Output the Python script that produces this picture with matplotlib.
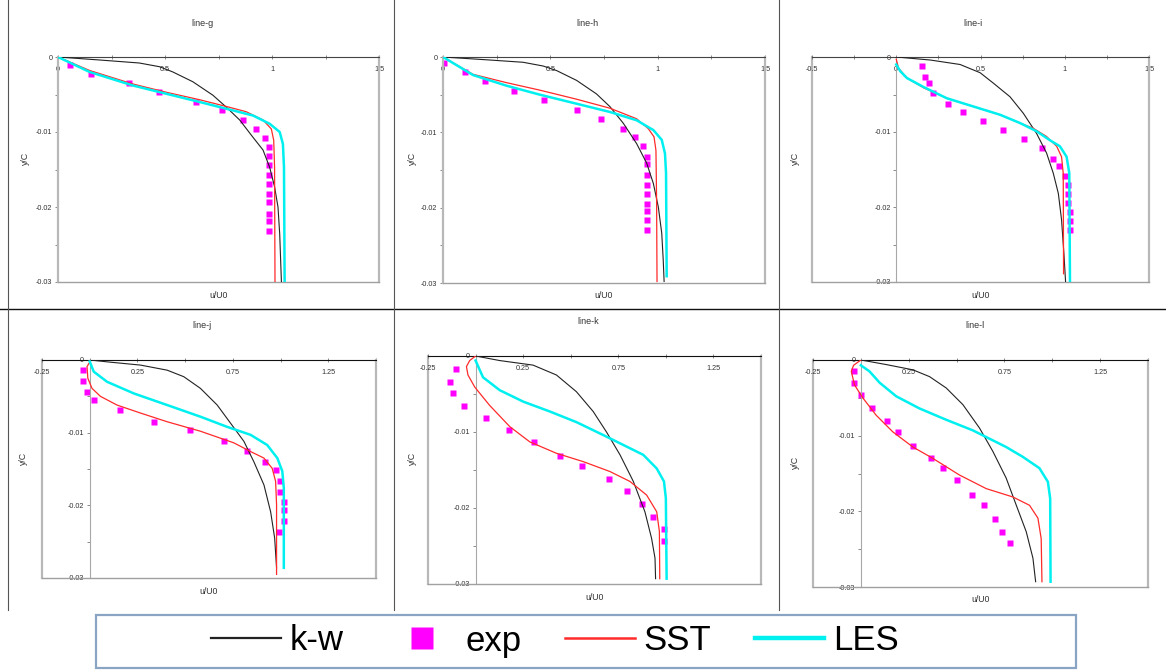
import matplotlib.pyplot as plt
from matplotlib.lines import Line2D
from matplotlib.patches import Rectangle

plt.rcParams['font.family'] = ['Liberation Sans', 'DejaVu Sans']

W, H = 1166, 671

# ---- line-g
g_kw_u = [0, 0.195, 0.38, 0.475, 0.537, 0.63, 0.724, 0.787, 0.849, 0.911, 0.958, 0.989, 1.012, 1.028, 1.036, 1.044]
g_kw_y = [0, -0.0004, -0.0008, -0.0013, -0.002, -0.0033, -0.0051, -0.0067, -0.0084, -0.0107, -0.0124, -0.0147, -0.0173, -0.02, -0.0236, -0.03]
g_sst_u = [0, 0.148, 0.35, 0.506, 0.662, 0.787, 0.88, 0.958, 0.997, 1.008, 1.012, 1.014]
g_sst_y = [0, -0.0018, -0.0036, -0.0047, -0.0057, -0.0066, -0.0073, -0.0084, -0.0096, -0.0111, -0.0147, -0.03]
g_les_u = [0, 0.148, 0.35, 0.506, 0.662, 0.787, 0.911, 0.989, 1.036, 1.051, 1.056, 1.059]
g_les_y = [0, -0.002, -0.0038, -0.0049, -0.006, -0.0069, -0.0078, -0.0089, -0.01, -0.0116, -0.0147, -0.03]
g_exp_u = [0.055, 0.156, 0.332, 0.472, 0.646, 0.768, 0.864, 0.924, 0.966,
           0.986, 0.986, 0.986, 0.986, 0.986, 0.986, 0.986, 0.986, 0.986, 0.986]
g_exp_y = [-0.001, -0.0022, -0.0035, -0.0047, -0.006, -0.0071, -0.0084, -0.0096, -0.0108, -0.012,
           -0.0132, -0.0144, -0.0157, -0.0169, -0.0183, -0.0193, -0.0209, -0.0219, -0.0232]

# ---- line-h
h_kw_u = [0, 0.218, 0.373, 0.467, 0.529, 0.622, 0.715, 0.778, 0.84, 0.902, 0.949, 0.98, 1.003, 1.019, 1.026, 1.03]
h_kw_y = [0, -0.0004, -0.0007, -0.0012, -0.0018, -0.0031, -0.0049, -0.0066, -0.0088, -0.0115, -0.0141, -0.0168, -0.0199, -0.0234, -0.027, -0.0298]
h_sst_u = [0, 0.14, 0.295, 0.451, 0.622, 0.778, 0.902, 0.956, 0.983, 0.992, 0.995, 0.997]
h_sst_y = [0, -0.0023, -0.0034, -0.0044, -0.0056, -0.0068, -0.0082, -0.0095, -0.0106, -0.0124, -0.019, -0.0298]
h_les_u = [0, 0.14, 0.295, 0.451, 0.622, 0.778, 0.902, 0.98, 1.019, 1.034, 1.039, 1.042]
h_les_y = [0, -0.0024, -0.0038, -0.005, -0.0062, -0.0073, -0.0084, -0.0097, -0.011, -0.0128, -0.0154, -0.0291]
h_exp_u = [0.003, 0.101, 0.197, 0.331, 0.47, 0.622, 0.737, 0.838, 0.896, 0.933,
           0.952, 0.952, 0.952, 0.952, 0.952, 0.952, 0.952, 0.952, 0.952]
h_exp_y = [-0.0008, -0.002, -0.0032, -0.0045, -0.0057, -0.007, -0.0082, -0.0095, -0.0106, -0.0118,
           -0.0133, -0.0142, -0.0156, -0.017, -0.0182, -0.0195, -0.0204, -0.0216, -0.023]

# ---- line-i
i_kw_u = [0, 0.201, 0.379, 0.498, 0.577, 0.675, 0.754, 0.833, 0.892, 0.932, 0.962, 0.981, 0.995, 1.005]
i_kw_y = [0, -0.0004, -0.001, -0.0021, -0.0035, -0.0053, -0.0075, -0.0102, -0.0128, -0.0155, -0.0182, -0.0217, -0.0262, -0.03]
i_sst_u = [0, 0.014, 0.063, 0.162, 0.3, 0.458, 0.616, 0.734, 0.813, 0.892, 0.952, 0.981, 0.991, 0.993]
i_sst_y = [-0.0003, -0.0015, -0.0028, -0.0041, -0.0055, -0.0066, -0.0077, -0.0088, -0.0095, -0.0106, -0.0119, -0.0133, -0.0155, -0.0289]
i_les_u = [0, 0.024, 0.063, 0.162, 0.3, 0.458, 0.616, 0.734, 0.833, 0.912, 0.971, 1.011, 1.027, 1.031]
i_les_y = [-0.001, -0.0019, -0.0028, -0.004, -0.0055, -0.0066, -0.0077, -0.0088, -0.0099, -0.0111, -0.0119, -0.0133, -0.0155, -0.03]
i_exp_u = [0.152, 0.172, 0.192, 0.221, 0.31, 0.395, 0.517, 0.636, 0.76, 0.863,
           0.928, 0.967, 1.001, 1.017, 1.017, 1.017, 1.031, 1.031, 1.031]
i_exp_y = [-0.0012, -0.0026, -0.0035, -0.0048, -0.0063, -0.0073, -0.0085, -0.0097, -0.0109, -0.0121,
           -0.0136, -0.0145, -0.0158, -0.017, -0.0182, -0.0194, -0.0207, -0.0219, -0.0231]

# ---- line-j
j_kw_u = [0, 0.108, 0.266, 0.406, 0.493, 0.58, 0.668, 0.738, 0.808, 0.86, 0.913, 0.948, 0.969, 0.979]
j_kw_y = [0, -0.0003, -0.0007, -0.0014, -0.0023, -0.0039, -0.0062, -0.0087, -0.0112, -0.014, -0.0172, -0.0209, -0.0245, -0.0286]
j_sst_u = [0, -0.014, -0.01, 0.012, 0.056, 0.143, 0.266, 0.406, 0.58, 0.755, 0.843, 0.913, 0.956, 0.974, 0.979, 0.979]
j_sst_y = [-0.0003, -0.0009, -0.0025, -0.0039, -0.005, -0.0062, -0.0073, -0.0085, -0.0098, -0.0114, -0.0126, -0.0135, -0.0149, -0.0167, -0.0199, -0.0295]
j_les_u = [0, 0.021, 0.091, 0.231, 0.406, 0.58, 0.72, 0.843, 0.93, 0.983, 1.009, 1.017, 1.017]
j_les_y = [-0.0002, -0.0016, -0.003, -0.0046, -0.0062, -0.0078, -0.0092, -0.0103, -0.0117, -0.0135, -0.0153, -0.0176, -0.0286]
j_exp_u = [-0.035, -0.035, -0.014, 0.021, 0.157, 0.336, 0.524, 0.703, 0.822, 0.916,
           0.974, 0.995, 0.995, 1.017, 1.017, 1.017, 0.993]
j_exp_y = [-0.0014, -0.0029, -0.0044, -0.0055, -0.0069, -0.0085, -0.0097, -0.0111, -0.0125, -0.014,
           -0.0152, -0.0166, -0.0182, -0.0195, -0.0207, -0.0222, -0.0237]

# ---- line-k
k_kw_u = [0, 0.127, 0.302, 0.425, 0.53, 0.618, 0.688, 0.759, 0.829, 0.89, 0.925, 0.943, 0.946]
k_kw_y = [0, -0.0006, -0.0012, -0.0025, -0.0047, -0.0073, -0.01, -0.013, -0.0165, -0.0205, -0.024, -0.0266, -0.0293]
k_sst_u = [0, -0.031, -0.048, -0.04, -0.004, 0.074, 0.18, 0.285, 0.425, 0.566, 0.706, 0.811, 0.899, 0.952, 0.966, 0.968]
k_sst_y = [0, -0.0006, -0.0014, -0.0025, -0.0041, -0.0065, -0.0093, -0.0113, -0.0128, -0.0139, -0.0152, -0.0165, -0.0183, -0.0205, -0.0231, -0.0293]
k_les_u = [0, 0.039, 0.127, 0.25, 0.39, 0.53, 0.671, 0.776, 0.881, 0.952, 0.99, 1.0, 1.004]
k_les_y = [-0.0006, -0.0028, -0.0045, -0.006, -0.0073, -0.0087, -0.0104, -0.0117, -0.013, -0.0148, -0.0165, -0.0187, -0.0293]
k_exp_u = [-0.101, -0.136, -0.118, -0.06, 0.057, 0.174, 0.308, 0.445, 0.56, 0.7,
           0.797, 0.876, 0.932, 0.99, 0.99]
k_exp_y = [-0.0017, -0.0034, -0.0049, -0.0066, -0.0082, -0.0098, -0.0113, -0.0131, -0.0145, -0.0162,
           -0.0178, -0.0195, -0.0212, -0.0228, -0.0244]

# ---- line-l
l_kw_u = [0, 0.132, 0.272, 0.359, 0.446, 0.533, 0.62, 0.69, 0.759, 0.812, 0.864, 0.899, 0.913]
l_kw_y = [0, -0.0006, -0.0013, -0.0022, -0.0037, -0.0059, -0.009, -0.0121, -0.0156, -0.0192, -0.0227, -0.0262, -0.0293]
l_sst_u = [0, -0.038, -0.05, -0.033, 0.01, 0.08, 0.167, 0.272, 0.376, 0.515, 0.655, 0.794, 0.881, 0.925, 0.942, 0.946]
l_sst_y = [0, -0.0007, -0.0015, -0.0033, -0.005, -0.0073, -0.0095, -0.0115, -0.013, -0.0152, -0.017, -0.0181, -0.0192, -0.0209, -0.0236, -0.0293]
l_les_u = [0, 0.045, 0.098, 0.185, 0.306, 0.446, 0.585, 0.672, 0.759, 0.846, 0.933, 0.977, 0.989, 0.991]
l_les_y = [-0.0007, -0.0015, -0.003, -0.0048, -0.0064, -0.0079, -0.0093, -0.0104, -0.0115, -0.0128, -0.0143, -0.0161, -0.0183, -0.0293]
l_exp_u = [-0.038, -0.038, 0.0, 0.056, 0.136, 0.193, 0.272, 0.366, 0.428, 0.503,
           0.58, 0.641, 0.7, 0.738, 0.777]
l_exp_y = [-0.0014, -0.003, -0.0046, -0.0063, -0.0081, -0.0095, -0.0113, -0.013, -0.0143, -0.0159,
           -0.0178, -0.0192, -0.021, -0.0227, -0.0242]

titles = ['line-g', 'line-h', 'line-i', 'line-j', 'line-k', 'line-l']
xticks_a = [0, 0.5, 1, 1.5]
xticks_b = [-0.5, 0, 0.5, 1, 1.5]
xticks_c = [-0.25, 0.25, 0.75, 1.25]
yticks = [0, -0.01, -0.02, -0.03]
ytick_labels = ['0', '-0.01', '-0.02', '-0.03']
series_names = ['k-w', 'exp', 'SST', 'LES']

# panel box in pixels (left, top, right, bottom), x range, ticks, title x, ylabel x
panels = [
    dict(box=(58, 57, 379, 282), xlim=(0, 1.5), ticks=xticks_a, tx=203, yl=25,
         data=(g_kw_u, g_kw_y, g_exp_u, g_exp_y, g_sst_u, g_sst_y, g_les_u, g_les_y)),
    dict(box=(443, 57, 765, 283), xlim=(0, 1.5), ticks=xticks_a, tx=587, yl=412,
         data=(h_kw_u, h_kw_y, h_exp_u, h_exp_y, h_sst_u, h_sst_y, h_les_u, h_les_y)),
    dict(box=(812, 57, 1149, 282), xlim=(-0.5, 1.5), ticks=xticks_b, tx=973, yl=795,
         data=(i_kw_u, i_kw_y, i_exp_u, i_exp_y, i_sst_u, i_sst_y, i_les_u, i_les_y)),
    dict(box=(42, 360, 376, 578), xlim=(-0.25, 1.5), ticks=xticks_c, tx=202, yl=23,
         data=(j_kw_u, j_kw_y, j_exp_u, j_exp_y, j_sst_u, j_sst_y, j_les_u, j_les_y)),
    dict(box=(428, 356, 761, 584), xlim=(-0.25, 1.5), ticks=xticks_c, tx=588, yl=412,
         data=(k_kw_u, k_kw_y, k_exp_u, k_exp_y, k_sst_u, k_sst_y, k_les_u, k_les_y)),
    dict(box=(813, 360, 1148, 587), xlim=(-0.25, 1.5), ticks=xticks_c, tx=975, yl=795,
         data=(l_kw_u, l_kw_y, l_exp_u, l_exp_y, l_sst_u, l_sst_y, l_les_u, l_les_y)),
]

KW_C, EXP_C, SST_C, LES_C = '#222222', '#ff00ff', '#ff2a2a', '#00f0f0'
FRAME = '#b8b8b8'

fig = plt.figure(figsize=(W / 100, H / 100), dpi=100)

for n, p in enumerate(panels):
    l, t, r, b = p['box']
    ax = fig.add_axes([l / W, 1 - b / H, (r - l) / W, (b - t) / H])
    kw_u, kw_y, ex_u, ex_y, sst_u, sst_y, les_u, les_y = p['data']
    ax.plot(ex_u, ex_y, ls='none', marker='s', ms=4.3, color=EXP_C, mec='none', zorder=2)
    ax.plot(kw_u, kw_y, color=KW_C, lw=0.8, zorder=3)
    ax.plot(sst_u, sst_y, color=SST_C, lw=0.9, zorder=3)
    ax.plot(les_u, les_y, color=LES_C, lw=1.8, zorder=4)
    ax.set_xlim(*p['xlim'])
    ax.set_ylim(-0.03, 0)

    ax.xaxis.tick_top()
    xt = p['ticks']
    ax.set_xticks(xt)
    ax.set_xticklabels(['%g' % v for v in xt])
    x0, x1 = p['xlim']
    ax.set_xticks([x0 + 0.25 * k for k in range(int(round((x1 - x0) / 0.25)) + 1)], minor=True)
    ax.set_yticks(yticks)
    ax.set_yticklabels(ytick_labels)
    ax.set_yticks([-0.005, -0.015, -0.025], minor=True)
    ax.tick_params(axis='x', which='both', direction='inout', length=3, width=0.6,
                   color='#777777', labelsize=5.2, pad=-13)
    ax.tick_params(axis='y', which='both', direction='out', length=2.5, width=0.6,
                   color='#777777', labelsize=5.2, pad=1.5)

    top_c = '#444444' if n < 3 else '#111111'
    ax.spines['top'].set_color(top_c)
    ax.spines['top'].set_linewidth(0.8)
    ax.spines['right'].set_color(FRAME)
    ax.spines['right'].set_linewidth(1.6)
    ax.spines['bottom'].set_color('#a0a0a0')
    ax.spines['bottom'].set_linewidth(1.0)
    if x0 < 0:
        ax.spines['left'].set_position(('data', 0))
        ax.spines['left'].set_color('#a8a8a8')
        ax.spines['left'].set_linewidth(0.8)
        ax.axvline(x0, color=FRAME, lw=1.6, clip_on=False, zorder=1)
    else:
        ax.spines['left'].set_color(FRAME)
        ax.spines['left'].set_linewidth(1.6)
    for lab in ax.get_xticklabels() + ax.get_yticklabels():
        lab.set_color('#333333')

    fig.text(p['tx'] / W, 1 - (t - 34) / H, titles[n], ha='center', va='center',
             fontsize=6.5, color='#333333')
    fig.text((l + r) / 2 / W, 1 - (b + 13) / H, 'u/U0', ha='center', va='center',
             fontsize=6.3, color='#333333')
    fig.text(p['yl'] / W, 1 - (t + (b - t) * 0.45) / H, 'y/C', ha='center', va='center',
             rotation=90, fontsize=6.3, color='#333333')

# grid of separator lines
fig.add_artist(Line2D([0, 1], [1 - 309 / H, 1 - 309 / H], color='#111111', lw=1.0))
for xv in [8, 394, 779]:
    fig.add_artist(Line2D([xv / W, xv / W], [1, 1 - 610 / H], color='#555555', lw=0.8))

# legend box
fig.add_artist(Rectangle((96 / W, 1 - 668 / H), 980 / W, 53 / H, transform=fig.transFigure,
                         facecolor='white', edgecolor='#8aa4c4', lw=1.6, zorder=5))
handles = [Line2D([], [], color=KW_C, lw=1.6),
           Line2D([], [], ls='none', marker='s', ms=16, color=EXP_C, mec='none'),
           Line2D([], [], color=SST_C, lw=1.8),
           Line2D([], [], color=LES_C, lw=3.2)]
leg = fig.legend(handles, series_names, loc='center', bbox_to_anchor=(555 / W, 1 - 641 / H),
                 ncol=4, frameon=False, handlelength=2.0, handletextpad=0.26,
                 columnspacing=1.25, prop={'family': 'Liberation Sans', 'size': 25})
leg.set_zorder(6)

fig.savefig('out.png', dpi=100)
